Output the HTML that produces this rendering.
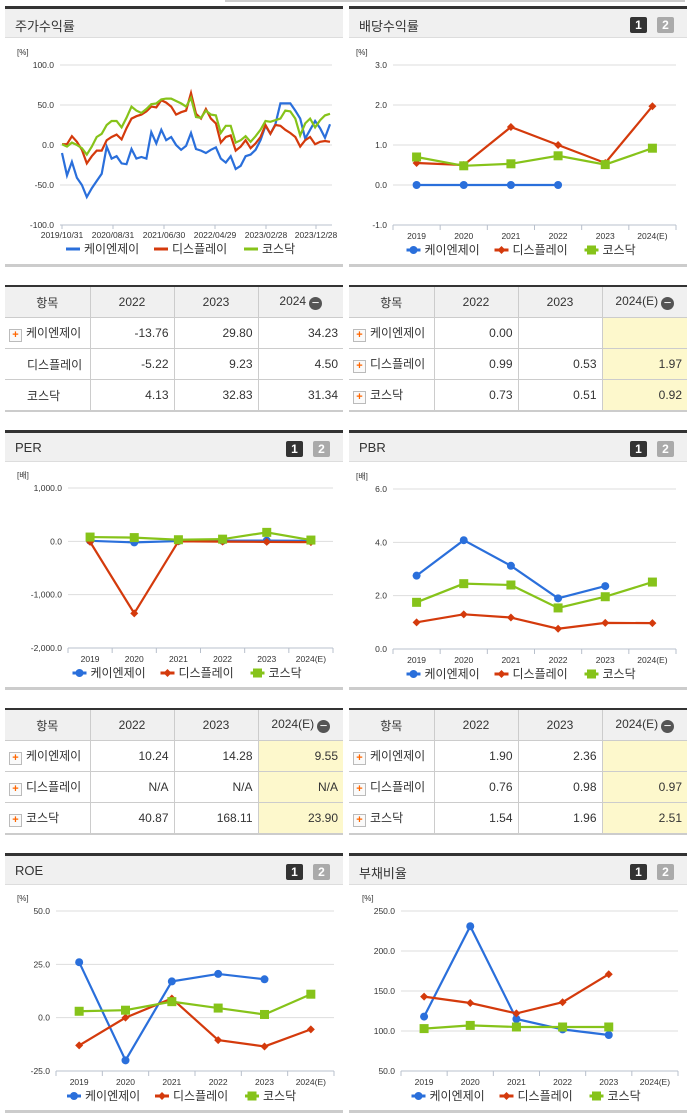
<!DOCTYPE html>
<html><head><meta charset="utf-8">
<style>
body{margin:0;width:691px;height:1115px;background:#fff;position:relative;overflow:hidden;font-family:"Liberation Sans","Noto Sans CJK KR",sans-serif;color:#333}
.ph{position:absolute;height:32px;background:#f0f0f0;border-top:3px solid #333;border-bottom:1px solid #ddd;box-sizing:border-box}
.ph span.t{position:absolute;left:10px;top:7px;font-size:13px;color:#333}
.b1,.b2{position:absolute;top:8px;width:17px;height:16px;font-size:12px;font-weight:bold;color:#fff;text-align:center;line-height:16px;border-radius:2px}
.b1{background:#333}.b2{background:#aaa}
.pb{position:absolute;height:3px;background:#ccc}
table{position:absolute;border-collapse:collapse;table-layout:fixed;font-size:12px;border-top:2px solid #333;border-bottom:2px solid #ccc}
td,th{border-left:1px solid #ccc;border-bottom:1px solid #ccc;height:30px;padding:0 5px;font-weight:normal;white-space:nowrap;overflow:hidden}
th{background:#f0f0f0;text-align:center}
td{text-align:right}
td:first-child,th:first-child{border-left:none}
td.n{text-align:left;padding-left:4px}
.y{background:#fdf8cc}
.pl{display:inline-block;width:11px;height:11px;border:1px solid #bbb;color:#f60;font-size:11px;line-height:10px;text-align:center;font-weight:bold;margin-right:4px;vertical-align:-1px;background:#fafafa}
.mi{display:inline-block;width:13px;height:13px;border-radius:50%;background:#555;color:#fff;line-height:12px;font-size:13px;vertical-align:-2px;margin-left:3px}
svg{position:absolute;left:0;top:0}
</style></head><body>
<div style="position:absolute;left:225px;top:0;width:460px;height:2px;background:#ccc"></div>

<div class="ph" style="left:5px;top:6px;width:338px"><span class="t">주가수익률</span></div>
<div class="ph" style="left:349px;top:6px;width:338px"><span class="t">배당수익률</span><span class="b1" style="left:281px">1</span><span class="b2" style="left:308px">2</span></div>
<div class="ph" style="left:5px;top:430px;width:338px"><span class="t">PER</span><span class="b1" style="left:281px">1</span><span class="b2" style="left:308px">2</span></div>
<div class="ph" style="left:349px;top:430px;width:338px"><span class="t">PBR</span><span class="b1" style="left:281px">1</span><span class="b2" style="left:308px">2</span></div>
<div class="ph" style="left:5px;top:853px;width:338px"><span class="t">ROE</span><span class="b1" style="left:281px">1</span><span class="b2" style="left:308px">2</span></div>
<div class="ph" style="left:349px;top:853px;width:338px"><span class="t">부채비율</span><span class="b1" style="left:281px">1</span><span class="b2" style="left:308px">2</span></div>

<div class="pb" style="left:5px;top:264px;width:338px"></div>
<div class="pb" style="left:349px;top:264px;width:338px"></div>
<div class="pb" style="left:5px;top:687px;width:338px"></div>
<div class="pb" style="left:349px;top:687px;width:338px"></div>
<div class="pb" style="left:5px;top:1110px;width:338px"></div>
<div class="pb" style="left:349px;top:1110px;width:338px"></div>

<table style="left:5px;top:285px;width:338px">
<colgroup><col style="width:85px"><col style="width:84px"><col style="width:84px"><col style="width:85px"></colgroup>
<tr><th>항목</th><th>2022</th><th>2023</th><th>2024<span class="mi">−</span></th></tr>
<tr><td class="n"><span class="pl">+</span>케이엔제이</td><td>-13.76</td><td>29.80</td><td>34.23</td></tr>
<tr><td class="n" style="padding-left:22px">디스플레이</td><td>-5.22</td><td>9.23</td><td>4.50</td></tr>
<tr><td class="n" style="padding-left:22px">코스닥</td><td>4.13</td><td>32.83</td><td>31.34</td></tr>
</table>
<table style="left:349px;top:285px;width:338px">
<colgroup><col style="width:85px"><col style="width:84px"><col style="width:84px"><col style="width:85px"></colgroup>
<tr><th>항목</th><th>2022</th><th>2023</th><th>2024(E)<span class="mi">−</span></th></tr>
<tr><td class="n"><span class="pl">+</span>케이엔제이</td><td>0.00</td><td></td><td class="y"></td></tr>
<tr><td class="n"><span class="pl">+</span>디스플레이</td><td>0.99</td><td>0.53</td><td class="y">1.97</td></tr>
<tr><td class="n"><span class="pl">+</span>코스닥</td><td>0.73</td><td>0.51</td><td class="y">0.92</td></tr>
</table>
<table style="left:5px;top:708px;width:338px">
<colgroup><col style="width:85px"><col style="width:84px"><col style="width:84px"><col style="width:85px"></colgroup>
<tr><th>항목</th><th>2022</th><th>2023</th><th>2024(E)<span class="mi">−</span></th></tr>
<tr><td class="n"><span class="pl">+</span>케이엔제이</td><td>10.24</td><td>14.28</td><td class="y">9.55</td></tr>
<tr><td class="n"><span class="pl">+</span>디스플레이</td><td>N/A</td><td>N/A</td><td class="y">N/A</td></tr>
<tr><td class="n"><span class="pl">+</span>코스닥</td><td>40.87</td><td>168.11</td><td class="y">23.90</td></tr>
</table>
<table style="left:349px;top:708px;width:338px">
<colgroup><col style="width:85px"><col style="width:84px"><col style="width:84px"><col style="width:85px"></colgroup>
<tr><th>항목</th><th>2022</th><th>2023</th><th>2024(E)<span class="mi">−</span></th></tr>
<tr><td class="n"><span class="pl">+</span>케이엔제이</td><td>1.90</td><td>2.36</td><td class="y"></td></tr>
<tr><td class="n"><span class="pl">+</span>디스플레이</td><td>0.76</td><td>0.98</td><td class="y">0.97</td></tr>
<tr><td class="n"><span class="pl">+</span>코스닥</td><td>1.54</td><td>1.96</td><td class="y">2.51</td></tr>
</table>

<svg id="c" width="691" height="1115"></svg>

<script>
const stockLabels=["2019/10/31","2020/08/31","2021/06/30","2022/04/29","2023/02/28","2023/12/28"];
const stockBlue=[-10,-38,-21,-41,-50,-65,-54,-45,-36,-2,-17,-14,-23,-24,-5,-17,-15,-17,16,2,19,6,10,0,-6,-1,15,-5,-7,-10,-6,-3,-17,-22,-14,-30,-26,-14,-12,-6,6,24,14,26,52,52,52,43,33,8,19,30,21,9,26];
const stockRed=[1,1,11,4,-6,-23,-14,-7,-7,6,10,13,7,21,33,36,38,42,48,47,56,53,48,38,41,43,65,39,33,45,33,27,3,10,12,-7,-2,6,-4,2,10,25,14,25,24,19,15,10,-2,6,10,1,4,5,4];
const stockGreen=[1,-2,3,0,-4,-12,-2,10,14,25,30,30,22,34,48,43,40,45,51,52,57,58,58,55,52,48,59,35,34,43,38,37,15,24,24,3,6,11,4,11,19,30,29,31,33,43,42,33,12,27,33,22,31,37,39];
const years=["2019","2020","2021","2022","2023","2024(E)"];
const divBlue=[0,0,0,0,null,null];
const divRed=[0.55,0.5,1.45,1.0,0.55,1.97];
const divGreen=[0.7,0.48,0.53,0.73,0.51,0.92];
const perBlue=[10,-20,5,10.24,14.28,9.55];
const perRed=[-10,-1350,0,-5,-10,-15];
const perGreen=[80,70,30,40.87,168.11,23.9];
const pbrBlue=[2.75,4.08,3.12,1.9,2.36,null];
const pbrRed=[1.0,1.3,1.18,0.76,0.98,0.97];
const pbrGreen=[1.75,2.45,2.4,1.54,1.96,2.51];
const roeBlue=[26,-20,17,20.5,18,null];
const roeRed=[-13,0,9,-10.5,-13.5,-5.5];
const roeGreen=[3,3.5,7.5,4.5,1.5,11];
const debtBlue=[118,231,115,102,95,null];
const debtRed=[143,135,122,136,171,null];
const debtGreen=[103,107,105,105,105,null];

const C={b:"#2a6fdb",r:"#d43a0c",g:"#86c31a"};
const NS="http://www.w3.org/2000/svg";
const svg=document.getElementById('c');
function el(t,a,p){const e=document.createElementNS(NS,t);for(const k in a)e.setAttribute(k,a[k]);(p||svg).appendChild(e);return e;}
function txt(x,y,s,size,anchor,p,fill){const t=el('text',{x:x,y:y,'font-size':size,'text-anchor':anchor||'start',fill:fill||'#333','font-family':'Liberation Sans, Noto Sans CJK KR, sans-serif'},p);t.textContent=s;return t;}

function axisY(v,cfg){return cfg.top+(cfg.ymax-v)/(cfg.ymax-cfg.ymin)*(cfg.bot-cfg.top);}
function frame(cfg,name){
  const g=el('g',{});
  
  
  txt(cfg.left-52+cfg.unitOff,cfg.top-10,cfg.unit,8,'start',g);
  for(let i=0;i<cfg.ticks.length;i++){
    const v=cfg.ticks[i],y=axisY(v,cfg);
    if(i<cfg.ticks.length-1)el('line',{x1:cfg.left,x2:cfg.right,y1:y,y2:y,stroke:'#ddd','stroke-width':1},g);
    txt(cfg.left-6,y+3,cfg.tickLabels[i],8.5,'end',g);
  }
  el('line',{x1:cfg.left,x2:cfg.right,y1:cfg.bot,y2:cfg.bot,stroke:'#b8c0cc','stroke-width':1},g);
  return g;
}
function marker(g,kind,x,y,col){
  if(kind==='b')el('circle',{cx:x,cy:y,r:4,fill:col},g);
  else if(kind==='r')el('path',{d:`M${x} ${y-4}L${x+4} ${y}L${x} ${y+4}L${x-4} ${y}Z`,fill:col},g);
  else el('rect',{x:x-4.5,y:y-4.5,width:9,height:9,fill:col},g);
}
function legend(cx,y,withMarkers,p){
  const items=[["b","케이엔제이"],["r","디스플레이"],["g","코스닥"]];
  const w=[88,90,62];let x=cx-120;
  items.forEach((it,i)=>{
    const g=el('g',{},p);
    
    
    el('line',{x1:x,x2:x+14,y1:y-4,y2:y-4,stroke:C[it[0]],'stroke-width':3},g);
    if(withMarkers)marker(g,it[0],x+7,y-4,C[it[0]]);
    txt(x+18,y,it[1],12,'start',g);
    x+=w[i];
  });
}
function catChart(cfg,series,name){
  const g=frame(cfg,name);
  const n=years.length,bw=(cfg.right-cfg.left)/n;
  for(let i=0;i<=n;i++){const x=cfg.left+i*bw;el('line',{x1:x,x2:x,y1:cfg.bot,y2:cfg.bot+5,stroke:'#b8c0cc'},g);}
  years.forEach((yv,i)=>txt(cfg.left+(i+.5)*bw,cfg.bot+14,yv,8.5,'middle',g));
  series.forEach(s=>{
    const sg=el('g',{},g);
    
    
    let d='';
    s.v.forEach((v,i)=>{if(v===null)return;const x=cfg.left+(i+.5)*bw,y=axisY(v,cfg);d+=(d?'L':'M')+x+' '+y;});
    el('path',{d:d,fill:'none',stroke:C[s.k],'stroke-width':2.2},sg);
    s.v.forEach((v,i)=>{if(v===null)return;marker(sg,s.k,cfg.left+(i+.5)*bw,axisY(v,cfg),C[s.k]);});
  });
  legend((cfg.left+cfg.right)/2-8,cfg.bot+29,true,g);
}

(function(){
  const cfg={left:60,right:332,top:65,bot:225,ymin:-100,ymax:100,ticks:[100,50,0,-50,-100],tickLabels:["100.0","50.0","0.0","-50.0","-100.0"],unit:"[%]",unitOff:9};
  const g=frame(cfg,'stock-return-chart');
  const lx=[62,113,164,215,266,316];
  stockLabels.forEach((l,i)=>{el('line',{x1:lx[i],x2:lx[i],y1:cfg.bot,y2:cfg.bot+4,stroke:'#b8c0cc'},g);txt(lx[i],cfg.bot+13,l,8.5,'middle',g);});
  [["b",stockBlue],["r",stockRed],["g",stockGreen]].forEach(s=>{
    const arr=s[1];let d='';
    arr.forEach((v,i)=>{const x=62+i*(330-62)/(arr.length-1);d+=(i?'L':'M')+x.toFixed(1)+' '+axisY(v,cfg).toFixed(1);});
    const p=el('path',{d:d,fill:'none',stroke:C[s[0]],'stroke-width':2.2},g);
    
    
  });
  legend(186,253,false,g);
})();

catChart({left:393,right:676,top:65,bot:225,ymin:-1,ymax:3,ticks:[3,2,1,0,-1],tickLabels:["3.0","2.0","1.0","0.0","-1.0"],unit:"[%]",unitOff:15},
  [{k:'b',v:divBlue},{k:'r',v:divRed},{k:'g',v:divGreen}],'dividend-chart');
catChart({left:68,right:333,top:488,bot:648,ymin:-2000,ymax:1000,ticks:[1000,0,-1000,-2000],tickLabels:["1,000.0","0.0","-1,000.0","-2,000.0"],unit:"[배]",unitOff:1},
  [{k:'b',v:perBlue},{k:'r',v:perRed},{k:'g',v:perGreen}],'per-chart');
catChart({left:393,right:676,top:489,bot:649,ymin:0,ymax:6,ticks:[6,4,2,0],tickLabels:["6.0","4.0","2.0","0.0"],unit:"[배]",unitOff:15},
  [{k:'b',v:pbrBlue},{k:'r',v:pbrRed},{k:'g',v:pbrGreen}],'pbr-chart');
catChart({left:56,right:334,top:911,bot:1071,ymin:-25,ymax:50,ticks:[50,25,0,-25],tickLabels:["50.0","25.0","0.0","-25.0"],unit:"[%]",unitOff:13},
  [{k:'b',v:roeBlue},{k:'r',v:roeRed},{k:'g',v:roeGreen}],'roe-chart');
catChart({left:401,right:678,top:911,bot:1071,ymin:50,ymax:250,ticks:[250,200,150,100,50],tickLabels:["250.0","200.0","150.0","100.0","50.0"],unit:"[%]",unitOff:13},
  [{k:'b',v:debtBlue},{k:'r',v:debtRed},{k:'g',v:debtGreen}],'debt-ratio-chart');
</script>
</body></html>
